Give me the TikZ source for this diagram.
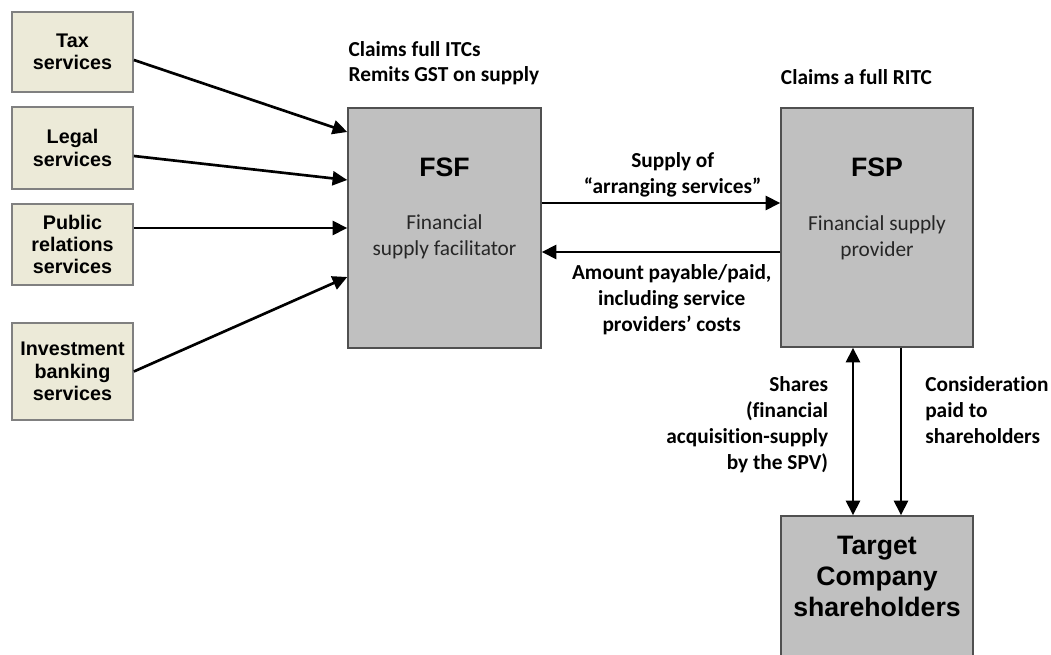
\documentclass[tikz,border=0pt]{standalone}
\usepackage{fontspec}
\setmainfont{Carlito}[Ligatures=NoCommon]
\newfontfamily\arialf{Liberation Sans}
\usetikzlibrary{arrows.meta,calc}
\definecolor{beige}{RGB}{236,234,216}
\definecolor{beigeb}{RGB}{128,128,128}
\definecolor{boxgray}{RGB}{192,192,192}
\definecolor{boxline}{RGB}{80,80,80}
\begin{document}
\begin{tikzpicture}[x=0.75pt,y=-0.75pt,
  svc/.style={draw=beigeb,fill=beige,line width=1.3pt,minimum width=121*0.75pt,inner sep=0pt,align=center,
    font=\arialf\bfseries\fontsize{14.8}{16.8}\selectfont},
  bigbox/.style={draw=boxline,fill=boxgray,line width=1.1pt,inner sep=0pt},
  title/.style={font=\arialf\bfseries\fontsize{20}{24}\selectfont,inner sep=0pt,anchor=base},
  sub/.style={font=\fontsize{16}{19.7}\selectfont,inner sep=0pt,anchor=base,align=center,text=black!85},
  note/.style={font=\bfseries\fontsize{16}{19.5}\selectfont,inner sep=0pt},
  arr/.style={line width=2pt,-{Triangle[length=11pt,width=10.5pt]}},
  darr/.style={line width=2pt,{Triangle[length=11pt,width=10.5pt]}-{Triangle[length=11pt,width=10.5pt]}}
]
\useasboundingbox (0,0) rectangle (1051,655);
\clip (0,0) rectangle (1051,655);

% service boxes
\node[svc,minimum height=80*0.75pt] (tax) at (72.5,52) {Tax\\services};
\node[svc,minimum height=82*0.75pt] (legal) at (72.5,148) {Legal\\services};
\node[svc,minimum height=81*0.75pt] (pub) at (72.5,244.5) {Public\\relations\\services};
\node[svc,minimum height=97*0.75pt] (inv) at (72.5,371.5) {Investment\\banking\\services};

% big boxes
\node[bigbox,minimum width=193*0.75pt,minimum height=240*0.75pt] (fsf) at (444.5,228) {};
\node[bigbox,minimum width=192*0.75pt,minimum height=239*0.75pt] (fsp) at (877,227.5) {};
\node[bigbox,minimum width=192*0.75pt,minimum height=160*0.75pt] (tgt) at (877,596) {};

% box texts (base = last line)
\node[title] (fsft) at (444.5,177) {FSF};
\node[sub] (fsfs) at (444.5,255.7) {Financial\\supply facilitator};
\node[title] (fspt) at (877,177) {FSP};
\node[sub] (fsps) at (877,257) {Financial supply\\provider};
\node[inner sep=0pt,anchor=base,align=center,font=\arialf\bfseries\fontsize{20}{23.6}\selectfont] (tgtt) at (877,617) {Target\\Company\\shareholders};

% notes
\node[note,anchor=base west,align=left,font=\bfseries\fontsize{16}{18.8}\selectfont] (n1) at (348.3,82) {Claims full ITCs\\Remits GST on supply};
\node[note,anchor=base west,align=left] (n2) at (780.7,85) {Claims a full RITC};
\node[note,anchor=base,align=center] (n3) at (672.7,193.3) {Supply of\\“arranging services”};
\node[note,anchor=base,align=center] (n4) at (671.7,331.7) {Amount payable/paid,\\including service\\providers’ costs};
\node[note,anchor=base east,align=right] (n5) at (828.3,470) {Shares\\(financial\\acquisition-supply\\by the SPV)};
\node[note,anchor=base west,align=left] (n6) at (925,444) {Consideration\\paid to\\shareholders};

% arrows to FSF
\draw[arr] ($(tax.east)+(0,8)$) -- ($(fsf.west)+(0,-96)$);
\draw[arr] ($(legal.east)+(0,8)$) -- ($(fsf.west)+(0,-48)$);
\draw[arr] ($(pub.east)+(0,-16.5)$) -- (fsf.west);
\draw[arr] (inv.east) -- ($(fsf.west)+(0,49)$);

% FSF <-> FSP
\coordinate (s1) at ($(fsf.east)+(0,-25)$);
\coordinate (a1) at ($(fsf.east)+(0,24)$);
\draw[arr] (s1) -- (fsp.west |- s1);
\draw[arr] (fsp.west |- a1) -- (a1);

% FSP <-> target
\coordinate (v1) at ($(fsp.south)+(-24,0)$);
\coordinate (v2) at ($(fsp.south)+(24,0)$);
\draw[darr] (v1) -- (tgt.north -| v1);
\draw[arr] (v2) -- (tgt.north -| v2);
\end{tikzpicture}
\end{document}
